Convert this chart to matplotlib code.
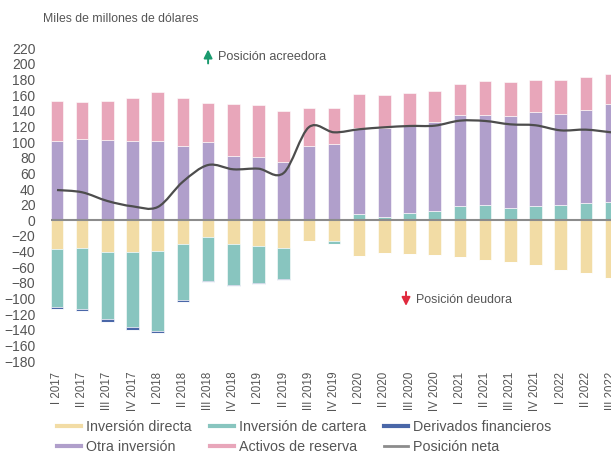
import matplotlib
matplotlib.use("Agg")
import matplotlib.pyplot as plt
import numpy as np
from matplotlib.path import Path
from matplotlib.patches import PathPatch
from matplotlib.lines import Line2D

plt.rcParams['font.family'] = ['Liberation Sans', 'DejaVu Sans']

periods = ["I 2017", "II 2017", "III 2017", "IV 2017",
           "I 2018", "II 2018", "III 2018", "IV 2018",
           "I 2019", "II 2019", "III 2019", "IV 2019",
           "I 2020", "II 2020", "III 2020", "IV 2020",
           "I 2021", "II 2021", "III 2021", "IV 2021",
           "I 2022", "II 2022", "III 2022"]

inversion_directa = [-36.7, -35.0, -40.1, -40.1, -38.9, -30.7, -21.8, -30.7, -32.9, -35.0,
                     -26.5, -27.0, -45.5, -42.2, -42.6, -43.9, -47.3, -50.6, -52.8, -56.6,
                     -63.0, -66.9, -73.8]
inversion_cartera = [-74.6, -78.4, -86.5, -96.7, -102.7, -71.2, -55.8, -52.0, -47.3, -40.0,
                     2.0, -3.2, 8.0, 4.6, 9.0, 11.5, 18.0, 20.0, 16.1, 18.3,
                     19.2, 22.5, 23.4]
derivados = [-2.5, -2.6, -3.4, -3.1, -2.5, -2.6, -1.3, -1.3, -1.3, -1.0,
             -0.5, -0.5, 0, 0, 0, 0, 0, 0, 0, 0,
             0, 0, 0]
otra_inversion = [102.0, 103.5, 102.7, 101.8, 101.8, 94.6, 100.5, 82.6, 81.3, 75.0,
                  93.0, 98.0, 110.4, 113.4, 112.8, 114.2, 116.6, 114.6, 117.3, 120.6,
                  117.2, 118.5, 125.6]
activos_reserva = [51.0, 47.5, 49.8, 54.6, 62.2, 61.4, 49.1, 66.1, 65.7, 64.4,
                   48.6, 45.2, 43.1, 42.6, 41.2, 39.3, 39.4, 43.1, 43.1, 40.1,
                   43.0, 42.7, 37.7]
posicion_neta = [38.7, 35.8, 24.7, 17.9, 17.0, 49.4, 70.7, 65.2, 66.0, 60.5,
                 119.0, 112.5, 116.4, 118.9, 120.6, 121.0, 127.4, 127.0, 122.7, 121.5,
                 115.0, 115.9, 112.5]

series = [
    ("Inversión directa", inversion_directa, "#F2DCA5"),
    ("Inversión de cartera", inversion_cartera, "#88C5BF"),
    ("Derivados financieros", derivados, "#4A67A8"),
    ("Otra inversión", otra_inversion, "#B09FCB"),
    ("Activos de reserva", activos_reserva, "#E8A6BA"),
]

fig = plt.figure(figsize=(6.11, 4.54), dpi=100)
ax = fig.add_axes([0.083, 0.1874, 0.917, 0.7236])

x = np.arange(len(periods))
pos_base = np.zeros(len(periods))
neg_base = np.zeros(len(periods))
for name, vals, col in series:
    v = np.array(vals, dtype=float)
    pos = np.where(v > 0, v, 0)
    neg = np.where(v < 0, v, 0)
    ax.bar(x, pos, 0.5, bottom=pos_base, color=col, edgecolor="#FFFFFF", linewidth=0.4, zorder=2)
    ax.bar(x, neg, 0.5, bottom=neg_base, color=col, edgecolor="#FFFFFF", linewidth=0.4, zorder=2)
    pos_base += pos
    neg_base += neg

ax.axhline(0, color="#8C8C8C", linewidth=1.5, zorder=3)

# smooth net position line (Catmull-Rom as cubic Bezier)
P = np.column_stack([x, np.array(posicion_neta)])
verts = [tuple(P[0])]
codes = [Path.MOVETO]
n = len(P)
for i in range(n - 1):
    p0 = P[i - 1] if i > 0 else P[i]
    p1 = P[i]
    p2 = P[i + 1]
    p3 = P[i + 2] if i + 2 < n else P[i + 1]
    c1 = p1 + (p2 - p0) / 6.0
    c2 = p2 - (p3 - p1) / 6.0
    verts += [tuple(c1), tuple(c2), tuple(p2)]
    codes += [Path.CURVE4] * 3
ax.add_patch(PathPatch(Path(verts, codes), fill=False, edgecolor="#4D4D4D", linewidth=1.6, zorder=4))

ax.set_xlim(-0.25, 22)
ax.set_ylim(-190, 230)
ax.set_yticks(np.arange(-180, 221, 20))
ax.set_xticks(x)
ax.set_xticklabels(periods, rotation=90)
ax.tick_params(axis='y', length=0, pad=11, labelsize=10, labelcolor="#555555")
ax.tick_params(axis='x', length=0, pad=2, labelsize=8.3, labelcolor="#555555")
for s in ax.spines.values():
    s.set_visible(False)

# annotations
ax.annotate("", xy=(6.0, 222), xytext=(6.0, 197),
            arrowprops=dict(arrowstyle="-|>,head_length=0.5,head_width=0.25", color="#1A9A6E", lw=1.4))
ax.text(6.38, 209, "Posición acreedora", fontsize=9.1, color="#555555", va="center", ha="left")
ax.annotate("", xy=(13.86, -113), xytext=(13.86, -88),
            arrowprops=dict(arrowstyle="-|>,head_length=0.5,head_width=0.25", color="#E02A3E", lw=1.4))
ax.text(14.25, -102, "Posición deudora", fontsize=8.9, color="#555555", va="center", ha="left")

fig.text(0.07, 0.958, "Miles de millones de dólares", fontsize=8.8, color="#555555", va="center", ha="left")

handles = [
    Line2D([], [], color="#F2DCA5", lw=3),
    Line2D([], [], color="#B09FCB", lw=3),
    Line2D([], [], color="#88C5BF", lw=3),
    Line2D([], [], color="#E8A6BA", lw=3),
    Line2D([], [], color="#4A67A8", lw=3),
    Line2D([], [], color="#8C8C8C", lw=2),
]
labels = ["Inversión directa", "Otra inversión", "Inversión de cartera",
          "Activos de reserva", "Derivados financieros", "Posición neta"]
leg = fig.legend(handles, labels, ncol=3, loc="upper left", bbox_to_anchor=(0.093, 0.0755),
                 frameon=False, fontsize=10.3, handlelength=1.7, handletextpad=0.35,
                 columnspacing=1.25, labelspacing=0.42, borderpad=0, borderaxespad=0)
for t in leg.get_texts():
    t.set_color("#555555")

fig.savefig("out.png", dpi=100)
